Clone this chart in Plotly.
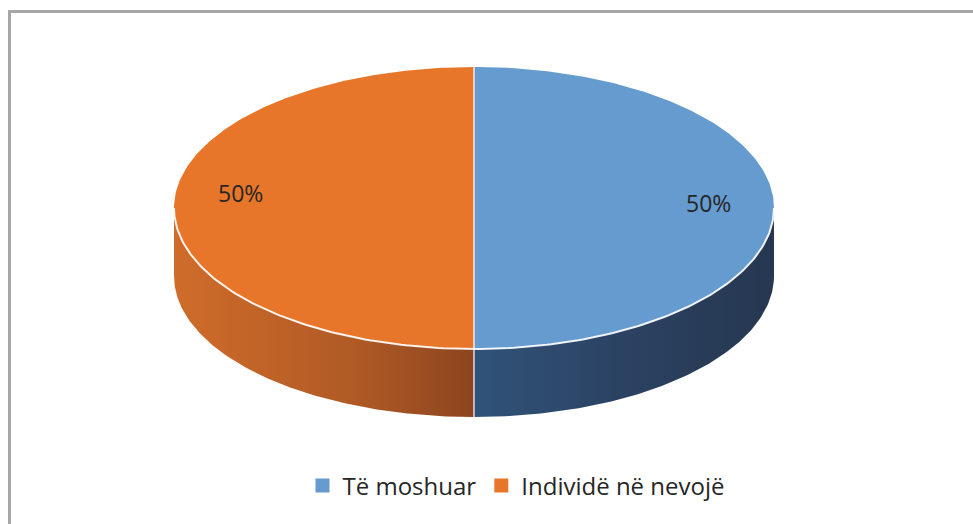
import numpy as np
import plotly.graph_objects as go

# ---- data ----
labels = ["Të moshuar", "Individë në nevojë"]
values = [50, 50]
pct_text = ["50%", "50%"]

# ---- style ----
top_colors = ["#659bce", "#e8762a"]
side_scales = [
    [[0, "#305379"], [0.5, "#2b4262"], [1, "#263750"]],
    [[0, "#cf6c2a"], [0.6, "#b05a25"], [1, "#8c451f"]],
]
label_dy = [-5, -15]
W, H = 973, 524
CX, CY, A, B, DEPTH = 474, 208, 300, 141, 68
FONT = "Open Sans"

def pt(phi, r=1.0, dy=0.0):
    # phi in degrees, measured clockwise from 12 o'clock
    t = np.radians(phi)
    return CX + A * r * np.sin(t), CY - B * r * np.cos(t) + dy

fig = go.Figure()

total = sum(values)
bounds = np.concatenate([[0], np.cumsum(values)]) / total * 360.0

# side faces (front half only: 90..270 deg)
for i in range(len(values)):
    s, e = bounds[i], bounds[i + 1]
    lo, hi = max(s, 90), min(e, 270)
    if hi <= lo:
        continue
    ph = np.linspace(lo, hi, 120)
    xt, yt = pt(ph)
    xb, yb = pt(ph[::-1], dy=DEPTH)
    xs = np.concatenate([xt, xb, xt[:1]])
    ys = np.concatenate([yt, yb, yt[:1]])
    fig.add_trace(go.Scatter(
        x=xs, y=ys, mode="lines", fill="toself", line=dict(width=0),
        fillgradient=dict(type="horizontal", colorscale=side_scales[i]),
        showlegend=False, hoverinfo="skip"))

# top faces
for i in range(len(values)):
    s, e = bounds[i], bounds[i + 1]
    ph = np.linspace(s, e, 200)
    xr, yr = pt(ph)
    xs = np.concatenate([[CX], xr, [CX]])
    ys = np.concatenate([[CY], yr, [CY]])
    fig.add_trace(go.Scatter(
        x=xs, y=ys, mode="lines", fill="toself", fillcolor=top_colors[i],
        line=dict(width=0), showlegend=False, hoverinfo="skip"))

# white highlight on front rim
ph = np.linspace(90, 270, 200)
xr, yr = pt(ph)
fig.add_trace(go.Scatter(x=xr, y=yr, mode="lines",
                         line=dict(color="rgba(255,255,255,0.9)", width=2),
                         showlegend=False, hoverinfo="skip"))

# slice boundaries
for b_ in bounds[:-1]:
    xe, ye = pt(b_)
    fig.add_trace(go.Scatter(x=[CX, xe], y=[CY, ye], mode="lines",
                             line=dict(color="rgba(255,255,255,0.85)", width=1.5),
                             showlegend=False, hoverinfo="skip"))
    if 90 < b_ % 360 < 270:
        fig.add_trace(go.Scatter(x=[xe, xe], y=[ye, ye + DEPTH], mode="lines",
                                 line=dict(color="rgba(255,255,255,0.8)", width=1.5),
                                 showlegend=False, hoverinfo="skip"))

# percentage labels
for i in range(len(values)):
    mid = (bounds[i] + bounds[i + 1]) / 2
    lx, ly = pt(mid, r=0.78, dy=label_dy[i])
    fig.add_annotation(x=lx, y=ly, text=pct_text[i], showarrow=False,
                       font=dict(family=FONT, size=23, color="#262626"),
                       xanchor="center", yanchor="middle")

# legend entries
for i in range(len(values)):
    fig.add_trace(go.Scatter(x=[None], y=[None], mode="markers", name=labels[i],
                             marker=dict(symbol="square", size=14, color=top_colors[i])))

# chart frame
fig.add_shape(type="rect", x0=9.5, y0=11.5, x1=W + 20, y1=H + 20,
              line=dict(color="#a6a6a8", width=3), fillcolor="rgba(0,0,0,0)")

fig.update_xaxes(range=[0, W], visible=False, fixedrange=True)
fig.update_yaxes(range=[H, 0], visible=False, fixedrange=True)
fig.update_layout(
    width=W, height=H, margin=dict(l=0, r=0, t=0, b=0),
    paper_bgcolor="white", plot_bgcolor="white",
    showlegend=True,
    legend=dict(orientation="h", x=516 / W, xanchor="center",
                y=1 - 486 / H, yanchor="middle",
                font=dict(family=FONT, size=24, color="#262626"),
                bgcolor="rgba(0,0,0,0)", itemclick=False),
)
fig.write_html("out.html", config={"displayModeBar": False},
               post_script="document.body.style.margin='0';document.body.style.overflow='hidden';")
